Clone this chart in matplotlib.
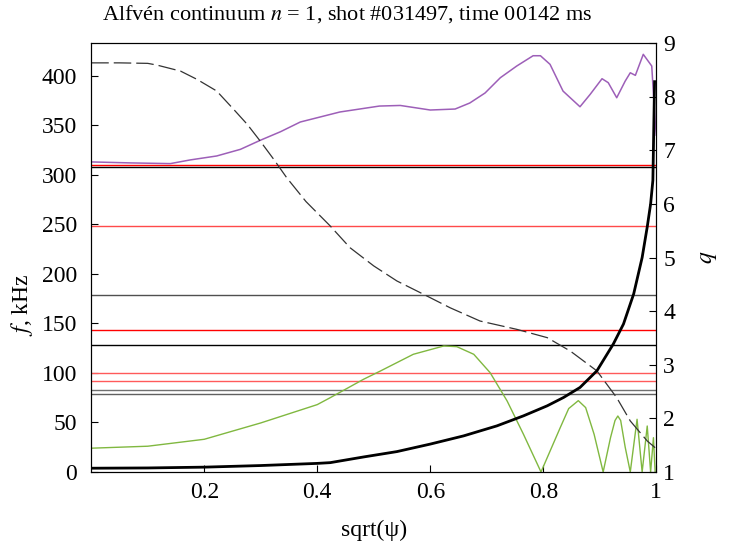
import matplotlib
matplotlib.use("Agg")
import matplotlib.pyplot as plt

plt.rcParams['font.family'] = ['Liberation Serif', 'DejaVu Serif']
plt.rcParams['mathtext.fontset'] = 'stix'

# continuum branches (left axis, kHz)
purple_x = [0, 0.07, 0.14, 0.175, 0.222, 0.264, 0.299, 0.335, 0.37, 0.44, 0.51, 0.547, 0.6,
            0.644, 0.67, 0.697, 0.724, 0.753, 0.782, 0.795, 0.812, 0.835, 0.865, 0.883, 0.904,
            0.915, 0.93, 0.945, 0.954, 0.963, 0.977, 0.992, 0.995, 0.998, 1.0]
purple_f = [313, 312, 311.3, 315, 319, 325.7, 334.8, 343.5, 353.3, 363.4, 369.4, 370, 365.4,
            366.4, 372.5, 382.6, 398, 409.8, 420.2, 420.2, 411.5, 384.5, 368.7, 381.2, 397,
            393, 377.8, 394.6, 403, 400.4, 421.6, 409.8, 381.2, 354.3, 340]

green_x = [0, 0.1, 0.2, 0.3, 0.4, 0.423, 0.482, 0.512, 0.57, 0.624, 0.647, 0.677, 0.706, 0.736,
           0.765, 0.796, 0.83, 0.845, 0.862, 0.875, 0.89, 0.906, 0.919, 0.927, 0.932, 0.937,
           0.945, 0.954, 0.966, 0.975, 0.984, 0.99, 0.995, 0.998]
green_f = [24, 26, 33, 49.5, 68, 75, 93.6, 102, 118.8, 127.2, 126.5, 118.8, 100.2, 71.7,
           38, 0, 44.7, 64, 72, 65, 38, 0, 34.6, 52, 56.5, 52,
           25, 0, 53.2, 0, 46.4, 0, 34.6, 0]

# dashed profile (left axis, kHz)
dashed_x = [0, 0.05, 0.1, 0.116, 0.158, 0.187, 0.222, 0.252, 0.276, 0.299, 0.323, 0.346, 0.38,
            0.423, 0.458, 0.5, 0.541, 0.588, 0.635, 0.688, 0.753, 0.807, 0.848, 0.895, 0.93,
            0.954, 0.984, 0.998]
dashed_f = [413, 413, 412.5, 410.8, 404.7, 396.4, 384.6, 366.1, 351, 334.1, 315.6, 297, 273,
            248.3, 226.4, 208, 192.8, 179.4, 165.8, 152.4, 144, 135.6, 122, 102, 75,
            51.5, 31.3, 24.5]

# safety factor (right axis)
q_x = [0, 0.1, 0.2, 0.3, 0.4, 0.423, 0.482, 0.541, 0.6, 0.659, 0.718, 0.765, 0.807, 0.836,
       0.865, 0.895, 0.924, 0.942, 0.96, 0.975, 0.984, 0.99, 0.994, 0.997]
q_vals = [1.07, 1.075, 1.09, 1.12, 1.16, 1.174, 1.28, 1.38, 1.52, 1.673, 1.86, 2.047, 2.234,
          2.39, 2.576, 2.888, 3.387, 3.76, 4.32, 5.0, 5.57, 6.0, 6.44, 8.28]

# mode frequencies (kHz)
line_f = [310, 308, 248, 179, 143, 128, 100, 92, 83, 79]
line_colors = ['red', 'black', '#ff4a4a', '#505050', 'red', 'black', '#ff5a5a', '#ff5a5a',
               '#707070', '#606060']

fig = plt.figure(figsize=(7.3, 5.45), dpi=100)
ax = fig.add_axes([0.125, 0.134, 0.774, 0.787])
ax2 = ax.twinx()

for f, c in zip(line_f, line_colors):
    ax.axhline(f, color=c, lw=1.0)

ax.plot(purple_x, purple_f, color='#9d5fb8', lw=1.1)
ax.plot(green_x, green_f, color='#80b840', lw=1.0)
ax.plot(dashed_x, dashed_f, color='#333333', lw=0.9, dashes=(14, 4))
ax2.plot(q_x, q_vals, color='black', lw=2.0)

ax.set_xlim(0, 1)
ax.set_ylim(0, 433)
ax2.set_ylim(1, 9)
ax.set_xticks([0.2, 0.4, 0.6, 0.8, 1])
ax.set_xticklabels(['0.2', '0.4', '0.6', '0.8', '1'])
ax.set_yticks(range(0, 401, 50))
ax2.set_yticks(range(1, 10))

ax.tick_params(axis='x', direction='in', labelsize=17, length=5, pad=7)
ax.tick_params(axis='y', direction='in', labelsize=17, length=5, pad=10)
ax2.tick_params(direction='in', labelsize=17, length=5, pad=5)

fig.text(0.475, 0.974, 'Alfvén continuum $n$ = 1, shot #031497, time 00142 ms',
         fontsize=16, ha='center', va='center')
ax.set_xlabel('sqrt(ψ)', fontsize=17)
ax.set_ylabel(r'$f$, kHz', fontsize=17)
ax2.set_ylabel(r'$q$', fontsize=17)
ax.yaxis.set_label_coords(-0.1, 0.39)
ax2.yaxis.set_label_coords(1.074, 0.5)
ax.xaxis.set_label_coords(0.5, -0.112)

fig.savefig('out.png', dpi=100)
